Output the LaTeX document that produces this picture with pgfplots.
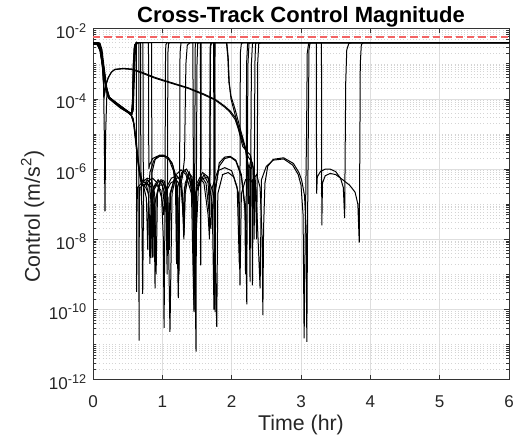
\documentclass[border=0pt]{standalone}
\usepackage{fontspec}
\setmainfont{Liberation Sans}
\usepackage{pgfplots}
\pgfplotsset{compat=1.18}
\definecolor{satred}{RGB}{242,100,100}
\pgfplotsset{traj/.style={black, line width=0.75pt, mark=none}}
\newcommand{\tpow}[1]{10\raisebox{5pt}{\fontsize{9.5}{10}\selectfont #1}}
\begin{document}
\begin{tikzpicture}
\begin{axis}[
  scale only axis, width=312pt, height=263.3pt,
  xmin=0, xmax=6, ymode=log, ymin=1e-12, ymax=1e-2,
  xtick={0,1,2,3,4,5,6},
  ytick={1e-12,1e-10,1e-8,1e-6,1e-4,1e-2},
  yticklabels={\tpow{-12},\tpow{-10},\tpow{-8},\tpow{-6},\tpow{-4},\tpow{-2}},
  minor ytick={2e-12,3e-12,4e-12,5e-12,6e-12,7e-12,8e-12,9e-12,1e-11,2e-11,3e-11,4e-11,5e-11,6e-11,7e-11,8e-11,9e-11,2e-10,3e-10,4e-10,5e-10,6e-10,7e-10,8e-10,9e-10,1e-9,2e-9,3e-9,4e-9,5e-9,6e-9,7e-9,8e-9,9e-9,2e-8,3e-8,4e-8,5e-8,6e-8,7e-8,8e-8,9e-8,1e-7,2e-7,3e-7,4e-7,5e-7,6e-7,7e-7,8e-7,9e-7,2e-6,3e-6,4e-6,5e-6,6e-6,7e-6,8e-6,9e-6,1e-5,2e-5,3e-5,4e-5,5e-5,6e-5,7e-5,8e-5,9e-5,2e-4,3e-4,4e-4,5e-4,6e-4,7e-4,8e-4,9e-4,1e-3,2e-3,3e-3,4e-3,5e-3,6e-3,7e-3,8e-3,9e-3},
  /pgf/number format/assume math mode=true,
  xmajorgrids, ymajorgrids, yminorgrids,
  major grid style={black!13, line width=0.4pt},
  minor grid style={black!17, dotted, line width=0.4pt},
  axis line style={black!80, line width=0.5pt},
  tick style={black!80, line width=0.5pt},
  tick align=inside,
  major tick length=3.5pt, minor tick length=2pt,
  axis background/.style={fill=white},
  xticklabel style={font=\fontsize{12.8}{14}\selectfont, text=black!85, anchor=base, yshift=-20.5pt},
  yticklabel style={font=\fontsize{12.8}{14}\selectfont, text=black!85, anchor=base east, inner sep=0pt, xshift=-4.9pt, yshift=-7.5pt},
  title={\bfseries Cross-Track Control Magnitude},
  title style={font=\fontsize{16.5}{18}\selectfont, at={(axis description cs:0.5,1)}, anchor=base, yshift=-1pt},
  xlabel={Time (hr)},
  xlabel style={font=\fontsize{16}{18}\selectfont, text=black!85, at={(axis description cs:0.5,0)}, anchor=base, yshift=-38pt},
  ylabel={Control (m/s\textsuperscript{2})},
  ylabel style={font=\fontsize{16}{18}\selectfont, text=black!85, at={(axis description cs:-0.128,0.464)}, anchor=base, rotate=0},
]
% trajectory 1
\addplot[traj] coordinates {(0,4e-3)(0.06,3.9e-3)(0.10,3.0e-3)(0.13,1.2e-3)(0.15,3e-4)(0.163,1.2e-4)(0.18,2.2e-4)(0.216,3.9e-4)(0.26,5.6e-4)(0.31,6.8e-4)(0.43,7.2e-4)(0.55,6.9e-4)(0.70,5.5e-4)(0.89,3.9e-4)(1.10,2.9e-4)(1.37,2e-4)(1.60,1.3e-4)(1.76,9.3e-5)(1.90,5.8e-5)(1.97,4.3e-5)(2.05,2.6e-5)(2.10,1.3e-5)(2.16,4.4e-6)(2.22,3.2e-6)(2.27,2.5e-6)(2.29,1e-6)(2.30,4.9e-10)(2.31,5e-7)(2.36,7e-7)(2.41,3e-7)(2.44,1e-8)(2.45,6.9e-11)(2.46,2e-8)(2.48,4e-7)(2.52,1.2e-6)(2.60,1.9e-6)(2.75,2.1e-6)(2.89,1.45e-6)(2.97,8e-7)(3.01,4.8e-7)(3.05,1.8e-7)(3.075,2e-8)(3.084,1.2e-11)(3.093,1e-8)(3.105,1e-5)(3.115,2.5e-3)(3.13,3.9e-3)(3.15,4e-3)(3.22,4e-3)(3.225,2e-7)(3.235,6e-7)(3.28,8.5e-7)(3.35,1e-6)(3.42,1e-6)(3.50,8.5e-7)(3.57,5.5e-7)(3.61,3e-7)(3.63,4e-8)(3.635,1e-6)(3.645,3e-4)(3.66,2.5e-3)(3.69,3.8e-3)(3.73,4e-3)(6,4e-3)};
% trajectory 2
\addplot[traj] coordinates {(0,3.7e-3)(0.06,3.6e-3)(0.10,2.5e-3)(0.14,8e-4)(0.18,2.5e-4)(0.22,1.1e-4)(0.30,8e-5)(0.40,5.5e-5)(0.50,4.2e-5)(0.55,3.5e-5)(0.58,2.5e-5)(0.62,5e-6)(0.66,1e-6)(0.70,3.5e-7)(0.717,2.8e-10)(0.73,3e-7)(0.78,5e-7)(0.83,4e-7)(0.88,1.5e-7)(0.895,4e-10)(0.91,1.5e-7)(0.97,4.5e-7)(1.02,4e-7)(1.08,1.5e-7)(1.11,2.3e-11)(1.14,2e-7)(1.20,7e-7)(1.27,9.5e-7)(1.34,7e-7)(1.42,2e-7)(1.457,8.5e-11)(1.48,2e-7)(1.55,5e-7)(1.65,6e-7)(1.74,2e-7)(1.785,3.2e-11)(1.80,2e-7)(1.87,7e-7)(1.95,8e-7)(2.03,6e-7)(2.10,2e-7)(2.12,4.9e-10)(2.14,2e-7)(2.20,5e-7)(2.27,5e-7)(2.35,3e-7)(2.41,4e-10)(2.43,5e-7)(2.50,1.2e-6)(2.60,1.8e-6)(2.75,1.95e-6)(2.88,1.3e-6)(2.96,7e-7)(3.00,3.5e-7)(3.03,5e-8)(3.045,1.5e-11)(3.06,1e-8)(3.08,1e-5)(3.09,2e-3)(3.11,3.8e-3)(3.14,4e-3)(3.295,4e-3)(3.30,2.5e-8)(3.31,4e-7)(3.35,6.5e-7)(3.42,7.5e-7)(3.50,7e-7)(3.60,5e-7)(3.70,3.5e-7)(3.78,2.2e-7)(3.82,1e-7)(3.84,8e-9)(3.85,1e-5)(3.855,1e-3)(3.87,3.5e-3)(3.90,4e-3)(6,4e-3)};
% trajectory 3
\addplot[traj] coordinates {(0,4e-3)(0.08,3.9e-3)(0.12,2e-3)(0.15,5e-4)(0.163,1e-5)(0.173,6.3e-8)(0.182,1e-5)(0.20,1.4e-4)(0.25,1e-4)(0.35,7e-5)(0.45,5e-5)(0.55,3.8e-5)(0.575,6e-5)(0.585,5e-4)(0.60,2.5e-3)(0.615,3.8e-3)(0.625,4e-3)(0.628,1e-6)(0.63,3.2e-10)(0.635,1e-7)(0.645,3e-7)(0.70,4e-7)(0.76,4.2e-7)(0.80,2e-7)(0.825,1e-8)(0.833,2.9e-9)(0.84,1e-8)(0.85,8e-7)(0.90,2e-6)(0.96,2.5e-6)(1.02,2.5e-6)(1.09,2.1e-6)(1.15,1.3e-6)(1.20,4e-7)(1.23,2.1e-10)(1.25,4e-7)(1.30,9e-7)(1.35,1e-6)(1.41,6e-7)(1.46,8e-8)(1.486,6.3e-12)(1.492,1e-6)(1.50,1e-3)(1.51,3.8e-3)(1.53,4e-3)(1.755,4e-3)(1.76,8.5e-11)(1.77,3e-7)(1.82,1.2e-6)(1.90,2e-6)(1.98,2.2e-6)(2.06,1.7e-6)(2.14,6e-7)(2.20,5e-8)(2.218,1.4e-10)(2.225,1e-6)(2.235,1e-3)(2.25,3.8e-3)(2.28,4e-3)(6,4e-3)};
% trajectory 4
\addplot[traj] coordinates {(0,3.9e-3)(0.07,3.8e-3)(0.11,2.8e-3)(0.14,1.2e-3)(0.18,3e-4)(0.22,1.2e-4)(0.30,8.5e-5)(0.40,6e-5)(0.55,3.6e-5)(0.58,4.5e-5)(0.595,3e-4)(0.61,2e-3)(0.63,3.8e-3)(0.65,4e-3)(0.66,4e-3)(0.662,1e-7)(0.664,1.3e-11)(0.668,1e-7)(0.68,3e-7)(0.72,3.5e-7)(0.76,3.6e-7)(0.81,4.8e-7)(0.86,5.5e-7)(0.93,4e-7)(0.99,1.5e-7)(1.015,1e-8)(1.025,3e-11)(1.035,1e-8)(1.04,1e-6)(1.045,1e-3)(1.05,3.5e-3)(1.07,4e-3)(6,4e-3)};
% trajectory 5
\addplot[traj] coordinates {(0,4e-3)(0.10,3.9e-3)(0.13,2.5e-3)(0.16,8e-4)(0.20,2e-4)(0.24,1.1e-4)(0.35,7.5e-5)(0.50,4.5e-5)(0.56,3.8e-5)(0.57,1e-4)(0.58,1e-3)(0.60,3.5e-3)(0.63,4e-3)(0.80,4e-3)(0.805,1e-6)(0.815,1.3e-6)(0.86,2e-6)(0.93,2.35e-6)(1.00,2.45e-6)(1.07,2.25e-6)(1.14,1.5e-6)(1.19,7e-7)(1.22,1.5e-7)(1.235,1e-9)(1.25,3e-7)(1.29,6e-7)(1.32,2e-6)(1.33,5e-5)(1.34,1e-3)(1.36,3.4e-3)(1.40,4e-3)(1.55,4e-3)(1.552,1e-7)(1.554,1.8e-9)(1.557,1e-7)(1.56,4e-3)(6,4e-3)};
% trajectory 6
\addplot[traj] coordinates {(0,3.8e-3)(0.08,3.7e-3)(0.12,2.2e-3)(0.16,6e-4)(0.20,1.6e-4)(0.24,1e-4)(0.35,7e-5)(0.50,4.3e-5)(0.56,3.6e-5)(0.58,8e-5)(0.59,8e-4)(0.61,3e-3)(0.64,4e-3)(0.845,4e-3)(0.85,1e-7)(0.855,3e-9)(0.86,1e-7)(0.88,3e-7)(0.95,4.5e-7)(1.00,4.5e-7)(1.05,2.5e-7)(1.075,1e-8)(1.085,5e-9)(1.095,1e-8)(1.11,2e-7)(1.17,5e-7)(1.25,6e-7)(1.29,2e-7)(1.313,1.3e-8)(1.33,2e-7)(1.38,8e-7)(1.43,6e-7)(1.465,1e-8)(1.475,1e-9)(1.485,1e-8)(1.52,3e-7)(1.60,7e-7)(1.66,4e-7)(1.685,5e-8)(1.69,1e-5)(1.695,3e-3)(1.71,4e-3)(1.93,4e-3)(1.95,1.5e-3)(1.965,3e-4)(1.99,1e-4)(2.05,3.5e-5)(2.12,1e-5)(2.20,3.5e-6)(2.25,1e-6)(2.265,6.2e-10)(2.275,1e-6)(2.285,1e-3)(2.30,3.8e-3)(2.33,4e-3)(6,4e-3)};
% trajectory 7
\addplot[traj] coordinates {(0,4e-3)(0.09,3.9e-3)(0.12,2.3e-3)(0.155,6e-4)(0.19,2e-4)(0.23,1.05e-4)(0.35,7.2e-5)(0.50,4.4e-5)(0.555,3.7e-5)(0.57,8e-5)(0.58,6e-4)(0.595,2.8e-3)(0.62,4e-3)(1.44,4e-3)(1.45,1e-7)(1.457,1e-10)(1.465,1e-7)(1.475,4e-3)(6,4e-3)};
% trajectory 8
\addplot[traj] coordinates {(0,3.95e-3)(0.06,3.85e-3)(0.10,3.1e-3)(0.13,1.3e-3)(0.15,3.3e-4)(0.165,1.3e-4)(0.19,2.6e-4)(0.225,4.2e-4)(0.27,5.9e-4)(0.32,7e-4)(0.44,7.4e-4)(0.56,7.1e-4)(0.71,5.7e-4)(0.90,4.05e-4)(1.11,3e-4)(1.38,2.05e-4)(1.61,1.35e-4)(1.77,9.5e-5)(1.90,6.2e-5)(1.98,4.5e-5)(2.06,2.8e-5)(2.12,1.2e-5)(2.18,5e-6)(2.24,2.2e-6)(2.30,1.5e-6)(2.34,5e-7)(2.36,1e-8)(2.37,1e-6)(2.375,1e-3)(2.39,3.7e-3)(2.42,4e-3)(6,4e-3)};
% trajectory 9
\addplot[traj] coordinates {(0,4e-3)(0.08,3.9e-3)(0.115,2.6e-3)(0.15,9e-4)(0.19,2.3e-4)(0.23,1.1e-4)(0.35,7.3e-5)(0.50,4.4e-5)(0.555,3.7e-5)(0.575,7e-5)(0.585,7e-4)(0.60,3e-3)(0.63,4e-3)(0.685,4e-3)(0.69,1e-6)(0.70,4e-7)(0.74,3.5e-7)(0.78,4e-7)(0.84,3e-7)(0.87,1e-7)(0.88,3e-9)(0.89,1e-7)(0.95,3.5e-7)(1.00,3.5e-7)(1.05,1.5e-7)(1.07,1e-9)(1.075,1e-6)(1.08,2e-3)(1.09,3.8e-3)(1.11,4e-3)(6,4e-3)};
% trajectory 10
\addplot[traj] coordinates {(0,3.6e-3)(0.07,3.5e-3)(0.11,2.2e-3)(0.15,7e-4)(0.19,2e-4)(0.23,1.05e-4)(0.32,7.5e-5)(0.45,5e-5)(0.55,3.4e-5)(0.59,2e-5)(0.63,4e-6)(0.67,9e-7)(0.71,3.8e-7)(0.76,3e-7)(0.80,2e-7)(0.815,1e-8)(0.82,2e-9)(0.825,1e-8)(0.84,2e-7)(0.92,3.5e-7)(0.98,2.5e-7)(1.02,5e-8)(1.04,2e-7)(1.12,4e-7)(1.20,5e-7)(1.27,3e-7)(1.30,5e-8)(1.32,3e-7)(1.38,6e-7)(1.44,2e-7)(1.46,5e-9)(1.48,2e-7)(1.56,5e-7)(1.60,4e-7)(1.66,5e-8)(1.68,1e-8)(1.685,1e-5)(1.69,3e-3)(1.70,4e-3)(1.925,4e-3)(1.945,1.5e-3)(1.96,3e-4)(1.99,1.2e-4)(2.05,5e-5)(2.12,1.5e-5)(2.20,4e-6)(2.23,1e-6)(2.24,1e-7)(2.25,1e-6)(2.28,2e-6)(2.31,1e-6)(2.325,1e-8)(2.33,1e-5)(2.335,1e-3)(2.345,3.8e-3)(2.37,4e-3)(6,4e-3)};
% trajectory 11
\addplot[traj] coordinates {(0,3.75e-3)(0.07,3.65e-3)(0.11,2.4e-3)(0.15,7.5e-4)(0.19,2.2e-4)(0.23,1.1e-4)(0.32,7.8e-5)(0.45,5.2e-5)(0.55,3.5e-5)(0.595,1.8e-5)(0.635,3.5e-6)(0.675,8e-7)(0.715,4.5e-7)(0.77,4e-7)(0.82,3e-7)(0.85,5e-8)(0.87,3e-7)(0.94,5e-7)(1.00,3.5e-7)(1.04,6e-8)(1.06,3e-7)(1.13,5.5e-7)(1.21,6.5e-7)(1.28,4e-7)(1.31,1e-8)(1.33,4e-7)(1.39,8e-7)(1.45,3e-7)(1.47,1e-9)(1.49,3e-7)(1.57,6e-7)(1.63,4e-7)(1.70,2e-8)(1.72,3e-7)(1.80,9e-7)(1.90,1.1e-6)(2.00,9e-7)(2.08,3e-7)(2.11,2e-9)(2.12,1e-6)(2.125,2e-3)(2.14,3.8e-3)(2.17,4e-3)(6,4e-3)};
% trajectory 12
\addplot[traj] coordinates {(0,3.85e-3)(0.08,3.75e-3)(0.12,2.4e-3)(0.16,7e-4)(0.20,1.7e-4)(0.24,1.05e-4)(0.35,7.1e-5)(0.50,4.35e-5)(0.56,3.65e-5)(0.575,9e-5)(0.585,9e-4)(0.60,3.2e-3)(0.63,4e-3)(0.72,4e-3)(0.725,1e-6)(0.73,4.5e-7)(0.78,5.5e-7)(0.84,5e-7)(0.89,2e-7)(0.91,1e-9)(0.93,2e-7)(0.98,5e-7)(1.03,4.5e-7)(1.08,1.5e-7)(1.10,5e-9)(1.12,2e-7)(1.18,6e-7)(1.22,3e-7)(1.24,1e-9)(1.25,1e-6)(1.255,2e-3)(1.27,4e-3)(1.74,4e-3)(1.745,1e-7)(1.75,1e-10)(1.755,1e-7)(1.76,4e-3)(6,4e-3)};
% trajectory 13
\addplot[traj] coordinates {(0,3.65e-3)(0.06,3.55e-3)(0.10,2.4e-3)(0.14,7.5e-4)(0.18,2.4e-4)(0.22,1.08e-4)(0.30,7.8e-5)(0.40,5.4e-5)(0.50,4.1e-5)(0.55,3.45e-5)(0.58,2.8e-5)(0.615,7e-6)(0.65,1.5e-6)(0.69,4.5e-7)(0.73,3.2e-7)(0.77,1.5e-7)(0.79,5e-9)(0.80,1e-7)(0.82,8e-7)(0.88,1.8e-6)(0.96,2.3e-6)(1.03,2.3e-6)(1.10,1.8e-6)(1.16,9e-7)(1.19,3e-7)(1.205,2e-9)(1.22,3e-7)(1.28,8e-7)(1.33,9e-7)(1.40,5e-7)(1.44,1e-7)(1.45,1e-9)(1.46,1e-7)(1.50,4e-7)(1.58,8e-7)(1.66,6e-7)(1.72,1e-7)(1.745,1e-10)(1.76,2e-7)(1.82,1.5e-6)(1.90,2.2e-6)(1.98,2.3e-6)(2.06,1.8e-6)(2.14,7e-7)(2.19,1e-7)(2.20,1e-9)(2.21,1e-7)(2.215,1e-3)(2.23,3.8e-3)(2.26,4e-3)(6,4e-3)};
% saturation limit (drawn last)
\addplot[draw=satred, line width=1.2pt, dash pattern=on 5.5pt off 3pt] coordinates {(0,5.7e-3) (6,5.7e-3)};
\end{axis}
\pgfresetboundingbox
\path (current axis.south west) ++(-69.75pt,-45pt) coordinate (bbA);
\path (current axis.north east) ++(6.75pt,21.5pt) coordinate (bbB);
\path[use as bounding box] (bbA) rectangle (bbB);
\end{tikzpicture}
\end{document}
